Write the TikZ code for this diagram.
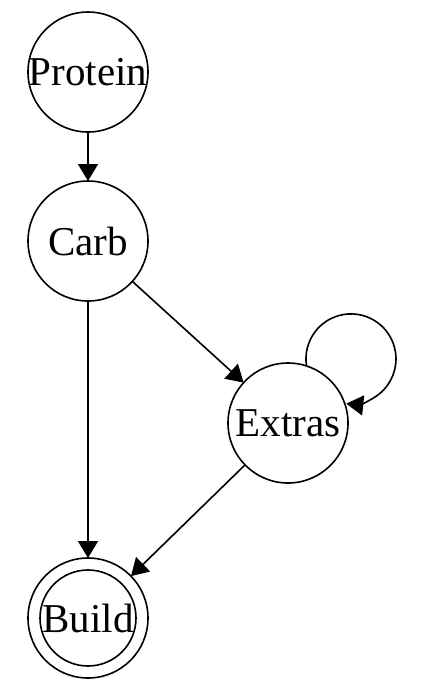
\documentclass[tikz,border=0pt]{standalone}
\usepackage{fontspec}
\setmainfont{Liberation Serif}
\usetikzlibrary{arrows.meta}
\begin{document}
\begin{tikzpicture}[x=0.5pt,y=-0.5pt,
 state/.style={circle,draw,line width=0.8pt,minimum size=60pt,inner sep=0pt,outer sep=0pt,font=\fontsize{20.5}{24}\selectfont},
 inner/.style={circle,draw,line width=0.8pt,minimum size=48pt,inner sep=0pt,outer sep=0pt},
 edge/.style={-{Triangle[length=8.5pt,width=10pt]},line width=0.8pt}]
\useasboundingbox (0,0) rectangle (420,698);
\node[state] (p) at (88,72) {\makebox[52pt]{Protein}};
\node[state] (c) at (88,241) {Carb};
\node[state] (e) at (288,423) {Extras};
\node[state] (b) at (88,618) {\makebox[40pt]{Build}};
\node[inner] (bi) at (b) {};
\draw[edge] (p) -- (c);
\draw[edge] (c) -- (b);
\draw[edge] (c) -- (e);
\draw[edge] (e) -- (b);
\draw[edge] (e.72) arc[start angle=189,end angle=-96,radius=22.5pt];
\end{tikzpicture}
\end{document}
